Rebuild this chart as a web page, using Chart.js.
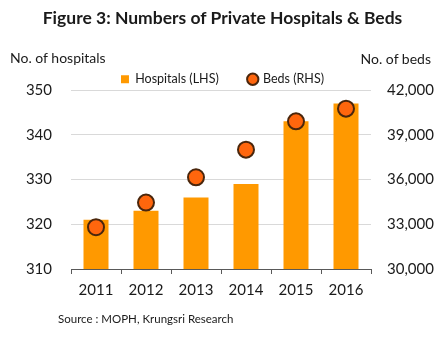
<!DOCTYPE html>
<html lang="en">
<head>
    <meta charset="UTF-8">
    <title>Figure 3: Numbers of Private Hospitals & Beds</title>
    <style>
        body {
            margin: 0;
            background: #ffffff;
            font-family: Lato, sans-serif;
            color: #1a1a1a;
        }
        #wrap {
            position: relative;
            width: 445px;
            height: 344px;
        }
        #chart {
            position: absolute;
            left: 0;
            top: 0;
        }
        .txt {
            position: absolute;
            white-space: nowrap;
        }
        #title {
            top: 7px;
            left: 0;
            width: 445px;
            text-align: center;
            font-weight: bold;
            font-size: 17.5px;
        }
        #leftTitle { left: 10px; top: 49px; font-size: 14px; }
        #rightTitle { right: 14px; top: 50px; font-size: 14px; }
        #source { left: 58px; top: 312px; font-size: 11.5px; }
    </style>
    <script src="https://cdn.jsdelivr.net/npm/chart.js"></script>
</head>
<body>
    <div id="wrap">
        <canvas id="chart" width="445" height="344"></canvas>
        <div class="txt" id="title">Figure 3: Numbers of Private Hospitals &amp; Beds</div>
        <div class="txt" id="leftTitle">No. of hospitals</div>
        <div class="txt" id="rightTitle">No. of beds</div>
        <div class="txt" id="source">Source : MOPH, Krungsri Research</div>
    </div>

    <script>
        // datos
        const years = ['2011', '2012', '2013', '2014', '2015', '2016'];
        const hospitals = [321, 323, 326, 329, 343, 347];
        const beds = [32800, 34450, 36150, 38000, 39900, 40750];
        const hospitalTicks = [310, 320, 330, 340, 350];
        const bedTicks = [30000, 33000, 36000, 39000, 42000];

        const font = { family: 'Lato, sans-serif', size: 15 };

        new Chart(document.getElementById('chart'), {
            data: {
                labels: years,
                datasets: [
                    {
                        type: 'bar',
                        label: 'Hospitals (LHS)',
                        data: hospitals,
                        backgroundColor: '#ff9900',
                        barPercentage: 0.5,
                        categoryPercentage: 1,
                        yAxisID: 'y',
                        order: 1,
                        pointStyle: 'rect'
                    },
                    {
                        type: 'line',
                        label: 'Beds (RHS)',
                        data: beds,
                        showLine: false,
                        pointRadius: 8,
                        pointBackgroundColor: '#ff660d',
                        pointBorderColor: '#4a260c',
                        pointBorderWidth: 2,
                        backgroundColor: '#ff660d',
                        borderColor: '#4a260c',
                        yAxisID: 'y1',
                        order: 0
                    }
                ]
            },
            options: {
                responsive: false,
                animation: false,
                layout: { padding: { top: 43, left: 0, right: 0, bottom: 0 } },
                plugins: {
                    tooltip: { enabled: false },
                    legend: {
                        display: true,
                        maxHeight: 47,
                        labels: {
                            usePointStyle: true,
                            boxWidth: 8,
                            boxHeight: 8,
                            padding: 30,
                            color: '#1a1a1a',
                            font: { family: 'Lato, sans-serif', size: 12.5 },
                            sort: (a, b) => a.datasetIndex - b.datasetIndex
                        }
                    }
                },
                scales: {
                    x: {
                        grid: {
                            display: true,
                            drawOnChartArea: false,
                            drawTicks: true,
                            tickLength: 5,
                            color: '#595959',
                            offset: true
                        },
                        border: { display: true, color: '#595959' },
                        ticks: { color: '#1a1a1a', font: font, padding: 7 },
                        afterFit: s => { s.height = 75; }
                    },
                    y: {
                        position: 'left',
                        min: 310,
                        max: 350,
                        afterBuildTicks: s => { s.ticks = hospitalTicks.map(v => ({ value: v })); },
                        grid: { color: '#d9d9d9', drawTicks: false },
                        border: { display: false },
                        ticks: { color: '#1a1a1a', font: font, padding: 19 },
                        afterFit: s => { s.width = 71; }
                    },
                    y1: {
                        position: 'right',
                        min: 30000,
                        max: 42000,
                        afterBuildTicks: s => { s.ticks = bedTicks.map(v => ({ value: v })); },
                        grid: { display: false, drawTicks: false },
                        border: { display: false },
                        ticks: {
                            color: '#1a1a1a',
                            font: font,
                            padding: 16,
                            callback: v => v.toLocaleString('en-US')
                        },
                        afterFit: s => { s.width = 74; }
                    }
                }
            }
        });
    </script>
</body>
</html>
